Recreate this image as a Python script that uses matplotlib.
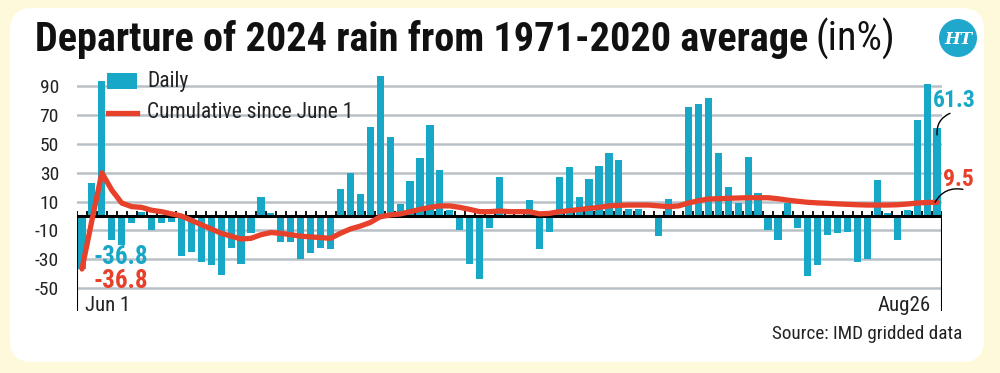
import matplotlib
matplotlib.use("Agg")
import matplotlib.pyplot as plt
from matplotlib import font_manager
from matplotlib.patches import FancyBboxPatch, Rectangle, Circle
from matplotlib.lines import Line2D
import numpy as np

# ---------------- data ----------------
daily = [-36.8, 23, 94, -17, -20, -5, 3, -10, -5, -4,
         -28, -25, -32, -34, -41, -22, -33, -12, 13, 2,
         -18, -18, -30, -26, -22, -23, 19, 30, 15, 62,
         97, 55, 8, 24, 40, 63, 32, 4, -10, -33,
         -44, -8, 27, 1, 1, 11, -23, -11, 27, 34,
         13, 26, 35, 44, 39, 5, 5, 0, -14, 12,
         1, 76, 78, 82, 44, 20, 9, 41, 16, -10,
         -17, 9, -8, -42, -34, -13, -12, -11, -32, -30,
         25, 2, -17, 4, 67, 92, 61.3]
cumulative = [-36.8, -3, 30, 18, 9, 6.5, 6, 4, 3, 1.5,
              0, -3, -6, -9, -12, -14, -16, -15.5, -13, -11.5,
              -12, -13, -14, -14.5, -15, -15.5, -12, -9, -7, -4.5,
              -0.5, 0.7, 1.4, 3, 4.6, 6, 7, 7, 6, 4.6,
              3, 3, 3.5, 3, 3, 3, 1.5, 1.8, 3, 3.7,
              4.5, 5.3, 6, 7, 7.4, 7.6, 7.6, 7.6, 7, 6.5,
              7, 9, 10.6, 11.8, 12, 12.3, 12.5, 12.7, 12.7, 12.7,
              12, 11, 10.2, 9.5, 9.1, 8.8, 8.4, 8.1, 7.8, 7.6,
              7.6, 7.6, 7.8, 8.3, 9, 9.4, 9.5]
yticks = [90, 70, 50, 30, 10, -10, -30, -50]
start_label = "Jun 1"
end_label = "Aug26"
daily_first_label = "-36.8"
cum_first_label = "-36.8"
daily_last_label = "61.3"
cum_last_label = "9.5"
title_bold = "Departure of 2024 rain from 1971-2020 average"
title_reg = "(in%)"
legend_daily = "Daily"
legend_cum = "Cumulative since June 1"
source = "Source: IMD gridded data"

# ---------------- fonts ----------------
names = {f.name for f in font_manager.fontManager.ttflist}
FONT = "DejaVu Sans"
for cand in ["Roboto Condensed", "Liberation Sans Narrow", "DejaVu Sans Condensed"]:
    if cand in names:
        FONT = cand
        break
plt.rcParams["font.family"] = [FONT, "DejaVu Sans"]

CYAN = "#17A7C7"
RED = "#E8412B"
GRID = "#B9C0C7"
CREAM = "#FEF9DA"
TXT = "#222222"

W, H = 1000, 373
fig = plt.figure(figsize=(W / 100, H / 100), dpi=100)
fig.patch.set_facecolor(CREAM)
panel = FancyBboxPatch((0.10, 0.11), 9.74, 3.54,
                       boxstyle="round,pad=0,rounding_size=0.22",
                       transform=fig.dpi_scale_trans, facecolor="white",
                       edgecolor="none", zorder=-5)
fig.patches.append(panel)

# axes: x -0.5 -> px 77, 86.5 -> px 942 ; y -75 -> px 324, 100 -> px 72
ax_l, ax_r, ax_t, ax_b = 77, 942, 72, 324
ax = fig.add_axes([ax_l / W, 1 - ax_b / H, (ax_r - ax_l) / W, (ax_b - ax_t) / H])
ax.set_zorder(2)
ax.set_facecolor("none")
n = len(daily)
x = np.arange(n)
ax.set_xlim(-0.5, n - 0.5)
ax.set_ylim(-75, 100)
for s in ax.spines.values():
    s.set_visible(False)

for yv in yticks:
    ax.axhline(yv, color=GRID, lw=1.8, zorder=0.5)

ax.bar(x, daily, width=0.72, color=CYAN, zorder=2)
ax.axhline(0, color="black", lw=2.2, zorder=3)
ax.vlines(np.arange(n + 1) - 0.5, 0, 3.6, color="black", lw=1.3, zorder=3)
ax.vlines([-0.5, n - 0.5], -66, 0, color="black", lw=1.5, zorder=3)
ax.plot(x, cumulative, color=RED, lw=3.8, solid_capstyle="round",
        solid_joinstyle="round", zorder=4)

ax.set_xticks([])
ax.set_yticks(yticks)
ax.set_yticklabels([str(v) for v in yticks], fontsize=14, color=TXT)
ax.tick_params(axis="y", length=0, pad=13)

# legend (manual)
ax.add_patch(Rectangle((30 / 865, (324 - 89) / 252), 30 / 865, 16 / 252,
                       transform=ax.transAxes, facecolor=CYAN, edgecolor="none",
                       zorder=5, clip_on=False))
ax.text(70 / 865, (324 - 81) / 252, legend_daily, transform=ax.transAxes,
        fontsize=15.5, va="center", ha="left", color=TXT, zorder=5)
ax.add_line(Line2D([31 / 865, 60 / 865], [(324 - 113) / 252] * 2,
                   transform=ax.transAxes, color=RED, lw=3.8, zorder=5))
ax.text(70 / 865, (324 - 113) / 252, legend_cum, transform=ax.transAxes,
        fontsize=15.5, va="center", ha="left", color=TXT, zorder=5)

# value labels
ax.text(1.2, daily[0] + 8, daily_first_label, color=CYAN, fontsize=18,
        fontweight="bold", ha="left", va="center", zorder=5)
ax.text(1.2, cumulative[0] - 8, cum_first_label, color=RED, fontsize=18,
        fontweight="bold", ha="left", va="center", zorder=5)
ax.text(85.6, daily[-1] + 19, daily_last_label, color=CYAN, fontsize=17,
        fontweight="bold", ha="left", va="center", zorder=5, clip_on=False)
ax.text(86.6, cumulative[-1] + 15.5, cum_last_label, color=RED, fontsize=17,
        fontweight="bold", ha="left", va="center", zorder=5, clip_on=False)
ax.annotate("", xy=(86.0, daily[-1] - 5), xytext=(87.3, daily[-1] + 10),
            arrowprops=dict(arrowstyle="-", color="black", lw=1.0,
                            connectionstyle="arc3,rad=0.35", shrinkA=0, shrinkB=0),
            annotation_clip=False, zorder=5)
ax.annotate("", xy=(85.8, cumulative[-1]), xytext=(88.6, cumulative[-1] + 9),
            arrowprops=dict(arrowstyle="-", color="black", lw=1.0,
                            connectionstyle="arc3,rad=0.35", shrinkA=0, shrinkB=0),
            annotation_clip=False, zorder=5)

ax.text(0.3, -66, start_label, fontsize=15, ha="left", va="baseline", color=TXT)
ax.text(n - 1.6, -66, end_label, fontsize=15, ha="right", va="baseline", color=TXT)

# title
t1 = fig.text(35 / W, 1 - 51 / H, title_bold, fontsize=22, fontweight="bold",
              ha="left", va="baseline", color="#111111")
fig.canvas.draw()
r = fig.canvas.get_renderer()
bb = t1.get_window_extent(r)
t1.set_fontsize(22 * (808 - 35) / bb.width)
fig.canvas.draw()
bb = t1.get_window_extent(r)
fig.text((bb.x1 + 7) / W, 1 - 51 / H, title_reg, fontsize=t1.get_fontsize(),
         ha="left", va="baseline", color="#111111")

# source
fig.text(962 / W, 1 - 339 / H, source, fontsize=13.8, ha="right", va="baseline",
         color=TXT)

# HT logo
logo = Circle((958 / 100, (H - 38) / 100), 0.19, transform=fig.dpi_scale_trans,
              facecolor="#1FA8CC", edgecolor="none")
fig.patches.append(logo)
fig.text(958 / W, 1 - 39 / H, "HT", fontsize=12, fontweight="bold", color="white",
         ha="center", va="center", family="DejaVu Serif", style="italic")

fig.savefig("out.png", dpi=100, facecolor=fig.get_facecolor())
